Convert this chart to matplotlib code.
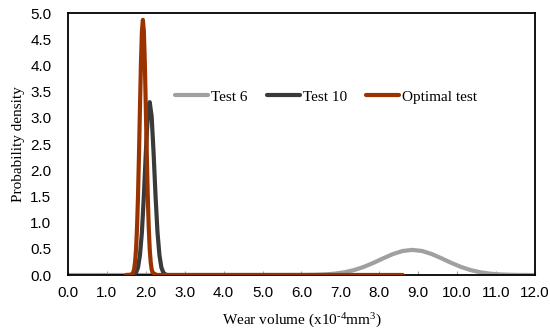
import numpy as np
import matplotlib.pyplot as plt

plt.rcParams['mathtext.fontset'] = 'custom'
plt.rcParams['mathtext.rm'] = 'Liberation Serif'
plt.rcParams['mathtext.it'] = 'Liberation Serif'

# curve samples
test6_x = [0.0, 6.1, 6.35, 6.6, 6.85, 7.1, 7.35, 7.6, 7.85, 8.1, 8.35, 8.6, 8.85,
           9.1, 9.35, 9.6, 9.85, 10.1, 10.35, 10.6, 10.85, 11.1, 11.35, 11.6, 12.0]
test6_y = [0.0, 0.002, 0.005, 0.012, 0.026, 0.052, 0.094, 0.155, 0.232, 0.319, 0.400, 0.459, 0.48,
           0.459, 0.400, 0.319, 0.232, 0.155, 0.094, 0.052, 0.026, 0.012, 0.005, 0.002, 0.0]

test10_x = [1.5, 1.65, 1.7, 1.75, 1.8, 1.85, 1.9, 1.95, 2.0, 2.05, 2.1, 2.15, 2.2,
            2.25, 2.3, 2.35, 2.4, 2.45, 2.5, 2.55, 8.6]
test10_y = [0.0, 0.004, 0.013, 0.047, 0.145, 0.38, 0.82, 1.51, 2.33, 3.03, 3.30, 3.03, 2.33,
            1.51, 0.82, 0.38, 0.145, 0.047, 0.013, 0.0, 0.0]

opt_x = [1.5, 1.625, 1.675, 1.7, 1.725, 1.75, 1.775, 1.8, 1.825, 1.85, 1.875, 1.9, 1.925,
         1.95, 1.975, 2.0, 2.025, 2.05, 2.075, 2.1, 2.125, 2.15, 2.175, 2.275, 8.6]
opt_y = [0.0, 0.002, 0.047, 0.11, 0.25, 0.50, 0.92, 1.52, 2.31, 3.20, 4.04, 4.65, 4.87,
         4.65, 4.04, 3.20, 2.31, 1.52, 0.92, 0.50, 0.25, 0.11, 0.047, 0.0, 0.0]

fig = plt.figure(figsize=(5.5, 3.35), dpi=100)
ax = fig.add_axes([0.1236, 0.179, 0.849, 0.782])

lw = 3.0
ax.plot(test6_x, test6_y, color='#a0a0a0', lw=lw, solid_capstyle='round', label='Test 6', zorder=2)
ax.plot(test10_x, test10_y, color='#3a3a3a', lw=lw, solid_capstyle='round', label='Test 10', zorder=3)
ax.plot(opt_x, opt_y, color='#9b3300', lw=lw, solid_capstyle='round', label='Optimal test', zorder=4)

ax.set_xlim(0, 12)
ax.set_ylim(0, 5)
ax.set_xticks(np.arange(0, 12.1, 1.0))
ax.set_xticklabels(['%.1f' % v for v in np.arange(0, 12.1, 1.0)])
ax.set_yticks(np.arange(0, 5.01, 0.5))
ax.set_yticklabels(['%.1f' % v for v in np.arange(0, 5.01, 0.5)])

for lab in ax.get_xticklabels() + ax.get_yticklabels():
    lab.set_family('Liberation Sans')
    lab.set_fontsize(11)
ax.tick_params(axis='x', direction='in', length=3, color='#a0a0a0', pad=8)
ax.tick_params(axis='y', length=0, pad=12)

for s in ax.spines.values():
    s.set_linewidth(1.3)
    s.set_color('black')

ax.set_xlabel(r'Wear volume (x10$^{\text{-4}}$mm$^{3}$)', family='Liberation Serif', fontsize=11, labelpad=8)
ax.set_ylabel('Probability density', family='Liberation Serif', fontsize=11, labelpad=4)

leg = ax.legend(loc='center', bbox_to_anchor=(0.553, 0.68), ncol=3, frameon=False,
                prop={'family': 'Liberation Serif', 'size': 11},
                handlelength=2.15, handletextpad=0.2, columnspacing=1.25)

fig.savefig('out.png', dpi=100)
